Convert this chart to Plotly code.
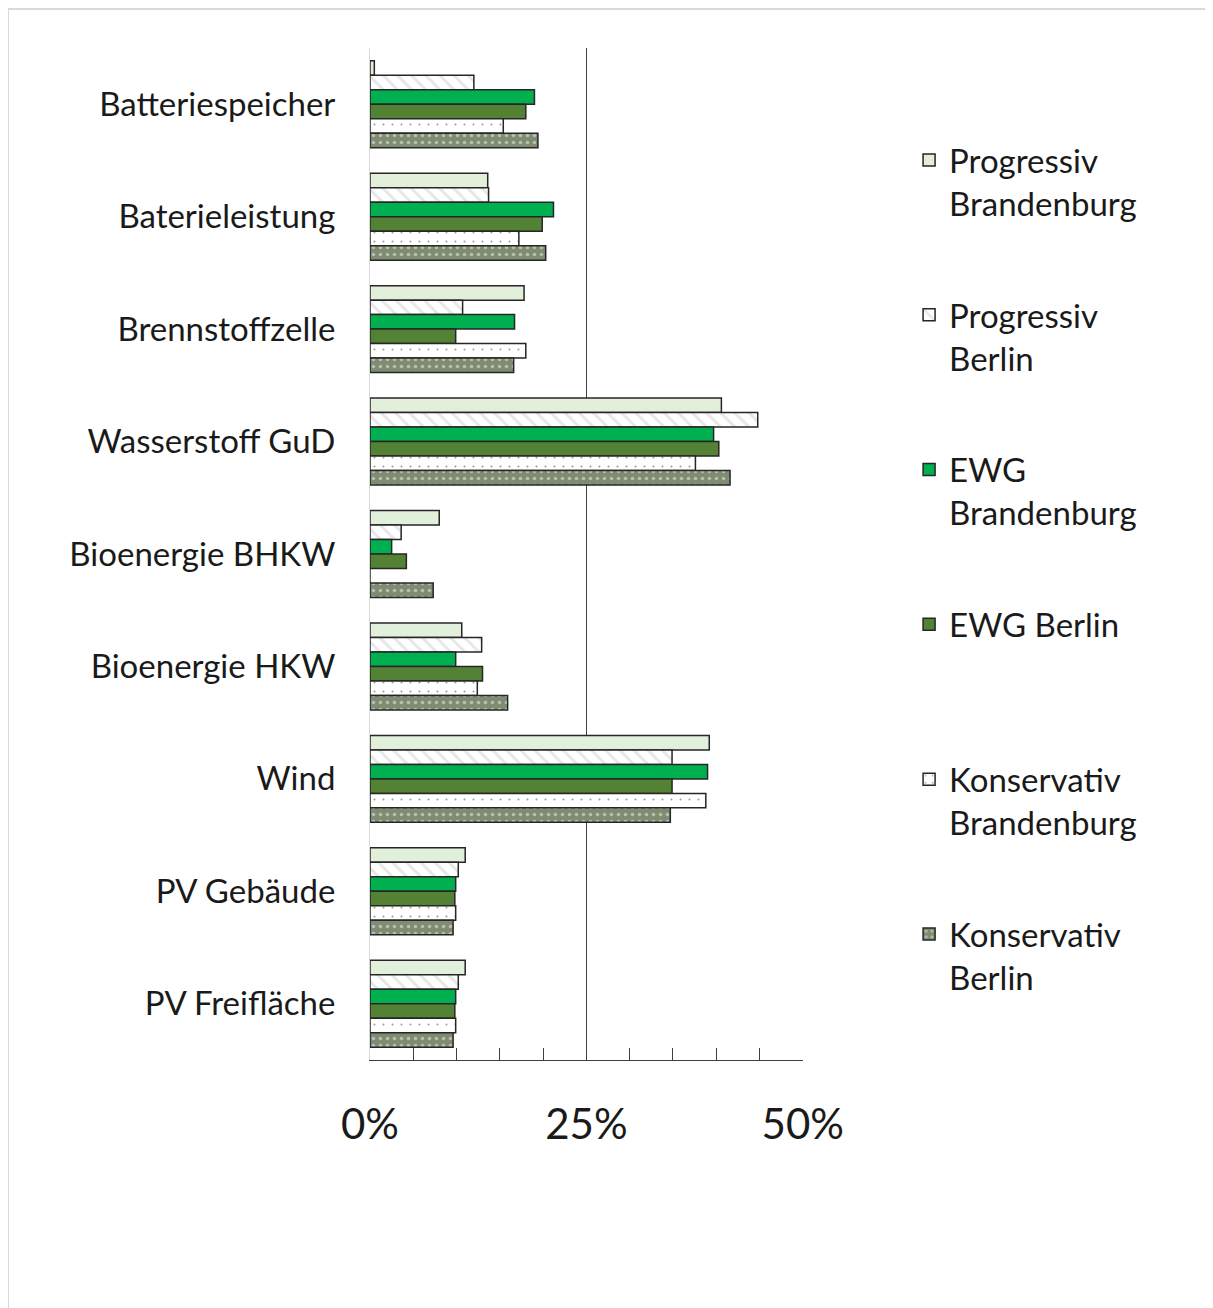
import plotly.graph_objects as go

categories = ["Batteriespeicher", "Baterieleistung", "Brennstoffzelle", "Wasserstoff GuD",
              "Bioenergie BHKW", "Bioenergie HKW", "Wind", "PV Gebäude", "PV Freifläche"]

series_names = ["Progressiv<br>Brandenburg", "Progressiv<br>Berlin", "EWG<br>Brandenburg",
                "EWG Berlin<br> ", "Konservativ<br>Brandenburg", "Konservativ<br>Berlin"]

progressiv_brandenburg = [0.5, 13.6, 17.8, 40.6, 8.0, 10.6, 39.2, 11.0, 11.0]
progressiv_berlin = [12.0, 13.7, 10.7, 44.8, 3.6, 12.9, 34.9, 10.2, 10.2]
ewg_brandenburg = [19.0, 21.2, 16.7, 39.7, 2.5, 9.9, 39.0, 9.9, 9.9]
ewg_berlin = [18.0, 19.9, 9.9, 40.3, 4.2, 13.0, 34.9, 9.8, 9.8]
konservativ_brandenburg = [15.4, 17.2, 18.0, 37.6, 0.0, 12.4, 38.8, 9.9, 9.9]
konservativ_berlin = [19.4, 20.3, 16.6, 41.6, 7.3, 15.9, 34.7, 9.6, 9.6]

tick_vals = [0, 25, 50]
tick_text = ["0%", "25%", "50%"]

values = [progressiv_brandenburg, progressiv_berlin, ewg_brandenburg,
          ewg_berlin, konservativ_brandenburg, konservativ_berlin]

styles = [
    dict(color="#e2efda", pattern=dict(shape="")),
    dict(color="white", pattern=dict(shape="\\", fgcolor="#d0d0d0", size=10, solidity=0.3)),
    dict(color="#00b050", pattern=dict(shape="")),
    dict(color="#548235", pattern=dict(shape="")),
    dict(color="white", pattern=dict(shape=".", fgcolor="#333333", size=9, solidity=0.04)),
    dict(color="#7f8c72", pattern=dict(shape=".", fgcolor="#f0f4ea", size=7, solidity=0.2)),
]

FONT = "Lato"
L, T, PW, PH = 362, 40, 433, 1012
W, H = 1213, 1308

fig = go.Figure()
for i, (name, vals, st) in enumerate(zip(series_names, values, styles)):
    fig.add_trace(go.Bar(
        y=categories, x=vals, orientation="h", name=name,
        legendgroup=f"g{i}",
        marker=dict(color=st["color"], pattern=st["pattern"],
                    line=dict(color="#262626", width=1.5)),
        hoverinfo="x+y",
    ))

fig.update_layout(
    width=W, height=H,
    margin=dict(l=L, r=W - L - PW, t=T, b=H - T - PH),
    paper_bgcolor="white", plot_bgcolor="white",
    barmode="group", bargap=0.227, bargroupgap=0,
    font=dict(family=FONT, color="#1a1a1a"),
    legend=dict(
        x=1.245, xanchor="left", y=0.917, yanchor="top",
        font=dict(size=33, family=FONT, color="#1a1a1a"),
        valign="top", tracegroupgap=66, traceorder="grouped",
        bgcolor="rgba(0,0,0,0)",
    ),
    xaxis=dict(
        range=[0, 50.03], tickvals=tick_vals, ticktext=tick_text,
        ticks="inside", ticklen=12, tickcolor="#404040", tickwidth=1,
        showline=True, linecolor="#404040", linewidth=1,
        showgrid=True, gridcolor="#404040", gridwidth=1,
        zeroline=False,
        tickfont=dict(size=42, family=FONT, color="#1a1a1a"),
        ticklabelstandoff=28,
        minor=dict(dtick=5, tick0=0, ticks="inside", ticklen=12, tickcolor="#404040",
                   tickwidth=1, showgrid=False),
        fixedrange=True,
    ),
    yaxis=dict(
        autorange="reversed", showline=True, linecolor="#d9d9d9", linewidth=1,
        ticks="", showgrid=False, zeroline=False,
        tickfont=dict(size=33, family=FONT, color="#1a1a1a"),
        ticklabelstandoff=27,
    ),
    shapes=[dict(type="rect", xref="paper", yref="paper",
                 x0=(0 - L) / PW, x1=(W + 20 - L) / PW,
                 y0=(T + PH - (H + 20)) / PH, y1=(T + PH - 1) / PH,
                 line=dict(color="#d9d9d9", width=2), fillcolor="rgba(0,0,0,0)",
                 layer="below")],
)

fig.write_html("out.html")
